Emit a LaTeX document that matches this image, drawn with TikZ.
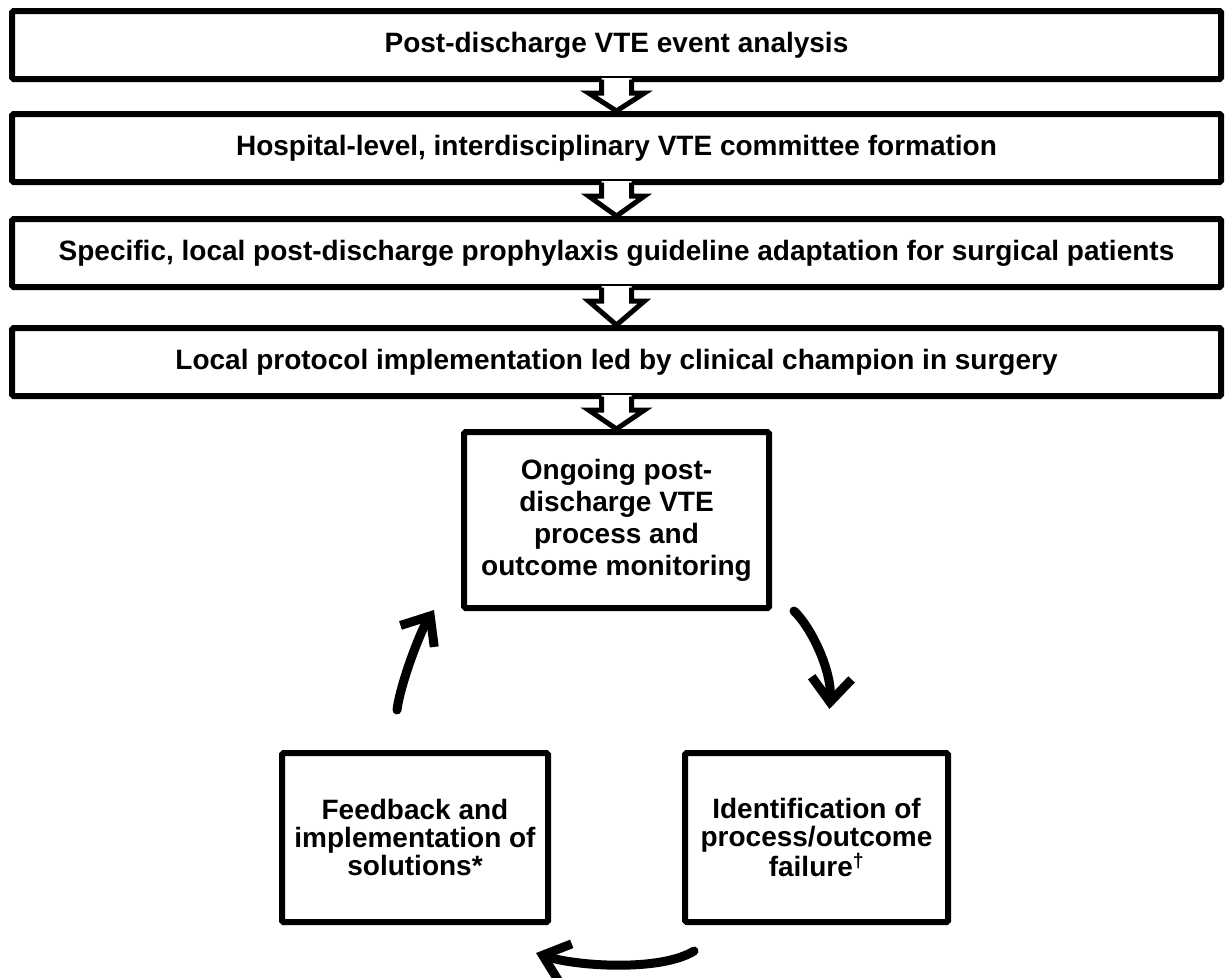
\documentclass[tikz,border=0pt]{standalone}
\usepackage{fontspec}
\setmainfont{Liberation Sans}
\usetikzlibrary{calc,arrows.meta}
\newcommand{\blockarrow}[2]{%
  \fill[white] ($(#1.south)+(-15,-4)$) -- ($(#1.south)+(-15,11)$) -- ($(#1.south)+(-28,11)$)
     -- (#2.north) -- ($(#1.south)+(28,11)$) -- ($(#1.south)+(15,11)$) -- ($(#1.south)+(15,-4)$) -- cycle;
  \draw[line width=5pt, line join=miter] ($(#1.south)+(-15,-2.5)$) -- ($(#1.south)+(-15,11)$) -- ($(#1.south)+(-28,11)$)
     -- (#2.north) -- ($(#1.south)+(28,11)$) -- ($(#1.south)+(15,11)$) -- ($(#1.south)+(15,-2.5)$);}
\begin{document}
\begin{tikzpicture}[x=1pt,y=-1pt,
  txt/.style={font=\fontsize{28}{32}\selectfont\bfseries},
  wide/.style={draw, fill=white, line width=6pt, rounded corners=1.5pt, minimum width=1209pt,
     minimum height=68pt, inner sep=0pt, txt},
  cyc/.style={draw, fill=white, line width=6pt, rounded corners=1.5pt, inner sep=0pt, align=center, txt},
  curvearrow/.style={line width=9pt, line cap=round, -{Straight Barb[length=24pt,width=40pt]}}
]
\useasboundingbox (0,0) rectangle (1231,977);
\fill[white] (0,0) rectangle (1231,977);

\node[wide] (b1) at (616.5,45) {Post-discharge VTE event analysis};
\node[wide] (b2) at (616.5,148) {Hospital-level, interdisciplinary VTE committee formation};
\node[wide] (b3) at (616.5,253) {Specific, local post-discharge prophylaxis guideline adaptation for surgical patients};
\node[wide] (b4) at (616.5,362) {Local protocol implementation led by clinical champion in surgery};
\node[cyc, minimum width=305pt, minimum height=176pt] (mon) at (616.5,520)
  {Ongoing post-\\discharge VTE\\process and\\outcome monitoring};
\node[cyc, minimum width=266pt, minimum height=169pt, font=\fontsize{28}{28}\selectfont\bfseries] (feed) at (415,837.5)
  {Feedback and\\implementation of\\solutions*};
\node[cyc, minimum width=263pt, minimum height=169pt, font=\fontsize{28}{28}\selectfont\bfseries] (ident) at (816.5,837.5)
  {Identification of\\process/outcome\\failure\textsuperscript{†}};

\blockarrow{b1}{b2}
\blockarrow{b2}{b3}
\blockarrow{b3}{b4}
\blockarrow{b4}{mon}

\coordinate (a1s) at ($(mon.south east)+(22,0)$);
\coordinate (a1e) at ($(ident.north)+(13,-41)$);
\coordinate (a2s) at ($(ident.south west)+(12,26)$);
\coordinate (a2e) at ($(feed.south east)+(-15,28)$);
\coordinate (a3s) at ($(feed.north)+(-18,-40)$);
\coordinate (a3e) at ($(mon.south west)+(-27,-1)$);

\draw[curvearrow] (a1s) .. controls (812,628) and (832,672) .. (a1e);
\draw[curvearrow] (a2s) .. controls (660,972) and (575,966) .. (a2e);
\draw[curvearrow] (a3s) .. controls (400,685) and (420,632) .. (a3e);
\end{tikzpicture}
\end{document}
